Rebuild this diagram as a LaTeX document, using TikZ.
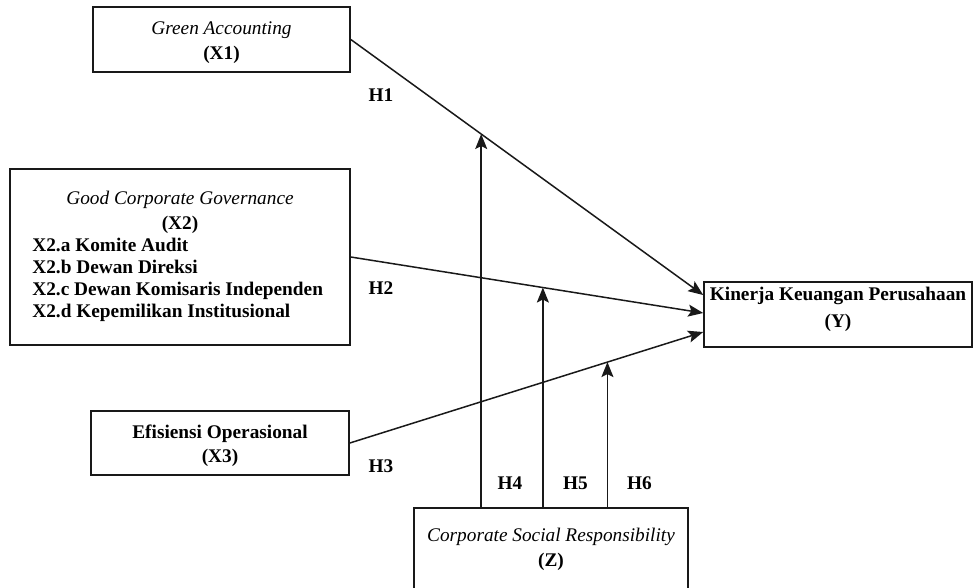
\documentclass[tikz,border=0pt]{standalone}
\usepackage{fontspec}
\setmainfont{Liberation Serif}
\usetikzlibrary{arrows.meta,positioning}
\newcommand{\construct}[1]{{\mdseries\itshape #1}}

\begin{document}
\begin{tikzpicture}
    [x=1pt,y=-1pt,
    every node/.style={font=\fontsize{19.3}{22}\selectfont\bfseries,inner sep=0pt},
    varbox/.style={rectangle,draw=black!90,line width=1.6pt},
    caption/.style={anchor=north,align=center},
    effect/.style={draw=black!90,line width=1.5pt,
    -{Stealth[length=15pt,width=12pt,inset=3pt]}}]
    \useasboundingbox (0,0) rectangle (973,587);
    % variables
    \node[varbox,minimum width=257,minimum height=65] (x1) at (221.5,39.5) {};
    \node[varbox,minimum width=340,minimum height=176] (x2) at (180,257) {};
    \node[varbox,minimum width=258,minimum height=64] (x3) at (220,443) {};
    \node[varbox,minimum width=268,minimum height=65] (y) at (838,314.5) {};
    \node[varbox,minimum width=274,minimum height=84] (z) at (551,550) {};
    \node[caption] (x1text) at ([yshift=-15pt]x1.north) {\construct{Green Accounting}\\[3pt](X1)};
    \node[caption] (x2text) at ([yshift=-23pt]x2.north) {\construct{Good Corporate Governance}\\[3pt](X2)};
    \node[anchor=north west,align=left] (x2list) at ([xshift=23pt,yshift=-69.5pt]x2.north west)
        {X2.a Komite Audit\\X2.b Dewan Direksi\\X2.c Dewan Komisaris Independen\\X2.d Kepemilikan Institusional};
    \node[caption] (x3text) at ([yshift=-14pt]x3.north) {Efisiensi Operasional\\[2pt](X3)};
    \node[caption] (ytext) at ([yshift=-6pt]y.north) {Kinerja Keuangan Perusahaan\\[5pt](Y)};
    \node[caption] (ztext) at ([yshift=-20.5pt]z.north) {\construct{Corporate Social Responsibility}\\[3pt](Z)};
    % hypotheses
    \node (h1) at (381,95) {H1};
    \node (h2) at (381,288.5) {H2};
    \node (h3) at (381,466.5) {H3};
    \node (h4) at (510,483.5) {H4};
    \node (h5) at (575.5,483.5) {H5};
    \node (h6) at (639.5,483.5) {H6};
    % paths
    \coordinate (yin1) at ([yshift=19.5pt]y.west);
    \coordinate (yin2) at ([yshift=1.5pt]y.west);
    \coordinate (yin3) at ([yshift=-17.5pt]y.west);
    \draw[effect] (x1.east) -- (yin1) coordinate[pos=0.37] (m4);
    \draw[effect] (x2.east) -- (yin2) coordinate[pos=0.545] (m5);
    \draw[effect] (x3.east) -- (yin3) coordinate[pos=0.729] (m6);
    \draw[effect] (z.north -| m4) -- (m4);
    \draw[effect] (z.north -| m5) -- (m5);
    \draw[effect] (z.north -| m6) -- (m6);
\end{tikzpicture}
\end{document}
